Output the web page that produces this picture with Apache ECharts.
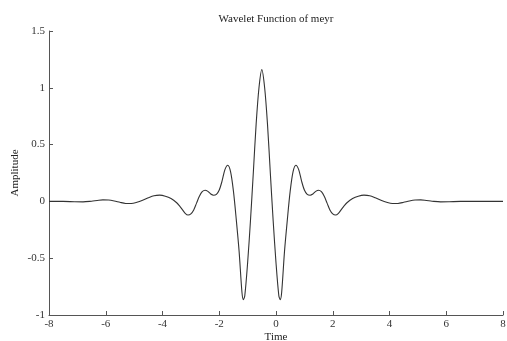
<!DOCTYPE html>
<html>
<head>
<meta charset="utf-8">
<script src="https://cdn.jsdelivr.net/npm/echarts@6/dist/echarts.min.js"></script>
<style>
html,body{margin:0;padding:0;background:#fff;}
#chart{width:507px;height:341px;}
</style>
</head>
<body>
<div id="chart"></div>
<script>
var chartTitle = 'Wavelet Function of meyr';
var xAxisTitle = 'Time';
var yAxisTitle = 'Amplitude';

var timeValues = [
  -8.0, -7.5, -7.1, -6.8, -6.5, -6.3, -6.1, -5.9, -5.7, -5.5,
  -5.3, -5.1, -4.9, -4.7, -4.5, -4.3, -4.1, -3.9, -3.7, -3.5,
  -3.4, -3.3, -3.2, -3.1, -3.0, -2.9, -2.8, -2.7, -2.6, -2.5,
  -2.4, -2.3, -2.2, -2.1, -2.0, -1.9, -1.8, -1.7, -1.6, -1.5,
  -1.4, -1.3, -1.2, -1.15, -1.1, -1.0, -0.9, -0.8, -0.7, -0.6,
  -0.5,
  -0.4, -0.3, -0.2, -0.1, 0.0, 0.1, 0.15, 0.2, 0.3, 0.4,
  0.5, 0.6, 0.7, 0.8, 0.9, 1.0, 1.1, 1.2, 1.3, 1.4,
  1.5, 1.6, 1.7, 1.8, 1.9, 2.0, 2.1, 2.2, 2.3, 2.4,
  2.5, 2.7, 2.9, 3.1, 3.3, 3.5, 3.7, 3.9, 4.1, 4.3,
  4.5, 4.7, 4.9, 5.1, 5.3, 5.5, 5.8, 6.1, 6.5, 7.0,
  7.5, 8.0
];

var amplitudeValues = [
  0.0, 0.0, -0.003, -0.004, 0.002, 0.008, 0.013, 0.012, 0.004, -0.008,
  -0.018, -0.019, -0.008, 0.01, 0.032, 0.05, 0.055, 0.046, 0.025, -0.012,
  -0.04, -0.072, -0.105, -0.12, -0.11, -0.075, -0.015, 0.045, 0.085, 0.098,
  0.088, 0.065, 0.054, 0.062, 0.10, 0.18, 0.28, 0.318, 0.26, 0.09,
  -0.16, -0.44, -0.80, -0.865, -0.83, -0.54, -0.17, 0.25, 0.68, 1.00,
  1.16,
  1.00, 0.68, 0.25, -0.17, -0.54, -0.83, -0.865, -0.80, -0.44, -0.16,
  0.09, 0.26, 0.318, 0.28, 0.18, 0.10, 0.062, 0.054, 0.065, 0.088,
  0.098, 0.085, 0.045, -0.015, -0.075, -0.11, -0.12, -0.105, -0.072, -0.04,
  -0.012, 0.025, 0.046, 0.055, 0.05, 0.032, 0.01, -0.008, -0.019, -0.018,
  -0.008, 0.004, 0.012, 0.013, 0.008, 0.002, -0.004, -0.003, 0.0, 0.0,
  0.0, 0.0
];

var seriesData = timeValues.map(function (t, i) { return [t, amplitudeValues[i]]; });

var serif = '"Liberation Serif", "DejaVu Serif", serif';
var chart = echarts.init(document.getElementById('chart'), null, {renderer: 'canvas'});
chart.setOption({
  animation: false,
  backgroundColor: '#ffffff',
  title: {
    text: chartTitle,
    left: 271,
    top: 9,
    textAlign: 'center',
    textStyle: {fontFamily: serif, fontSize: 11, fontWeight: 'normal', color: '#222'}
  },
  grid: {left: 49, right: 4, top: 31, bottom: 26, containLabel: false, outerBoundsMode: 'none'},
  xAxis: {
    type: 'value',
    min: -8, max: 8, interval: 2,
    name: xAxisTitle,
    nameLocation: 'middle',
    nameGap: 17,
    nameMoveOverlap: false,
    nameTextStyle: {fontFamily: serif, fontSize: 11, color: '#222'},
    axisLine: {show: true, onZero: false, lineStyle: {color: '#555', width: 1}},
    axisTick: {show: true, inside: true, length: 4, lineStyle: {color: '#555'}},
    axisLabel: {fontFamily: serif, fontSize: 11, color: '#333', margin: 4},
    splitLine: {show: false}
  },
  yAxis: {
    type: 'value',
    min: -1, max: 1.5, interval: 0.5,
    name: yAxisTitle,
    nameLocation: 'middle',
    nameGap: 28,
    nameRotate: 90,
    nameMoveOverlap: false,
    nameTextStyle: {fontFamily: serif, fontSize: 11, color: '#222'},
    axisLine: {show: true, onZero: false, lineStyle: {color: '#555', width: 1}},
    axisTick: {show: true, inside: true, length: 4, lineStyle: {color: '#555'}},
    axisLabel: {fontFamily: serif, fontSize: 11, color: '#333', margin: 4},
    splitLine: {show: false}
  },
  series: [{
    type: 'line',
    data: seriesData,
    showSymbol: false,
    smooth: 0.3,
    lineStyle: {color: '#333', width: 1.1}
  }]
});
</script>
</body>
</html>
